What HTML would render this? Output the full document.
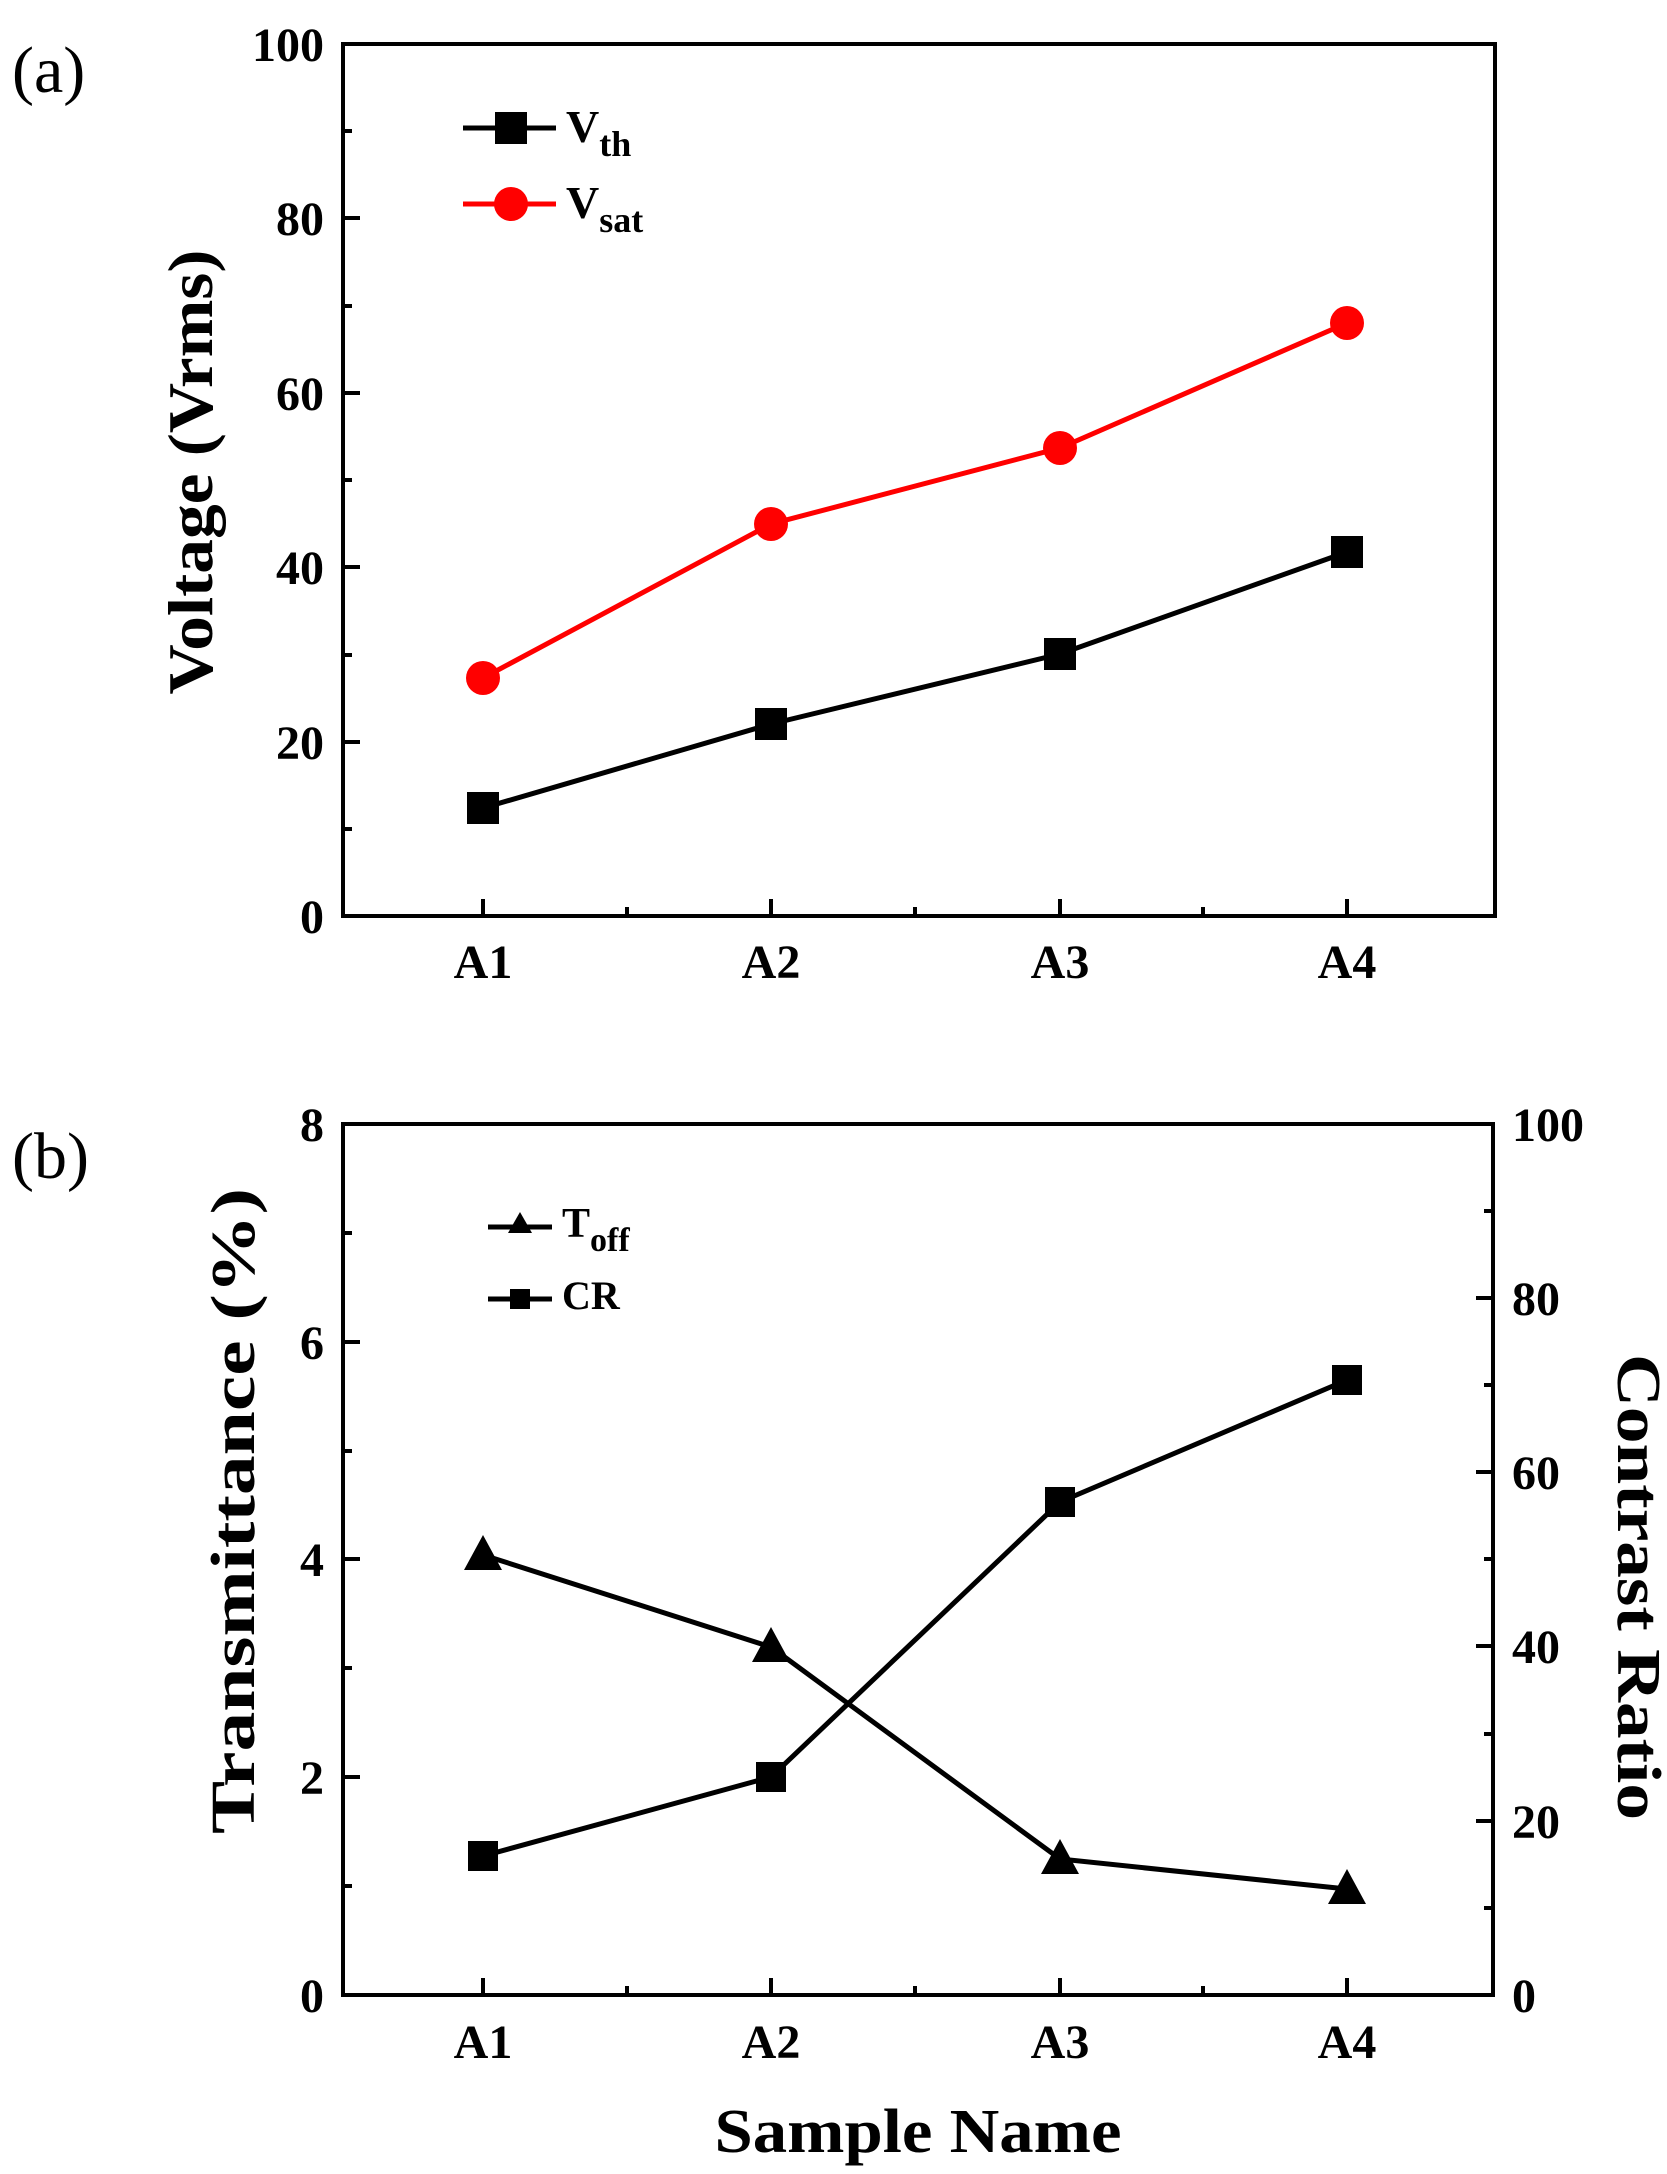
<!DOCTYPE html>
<html><head><meta charset="utf-8"><style>
html,body{margin:0;padding:0;background:#fff}
svg{display:block}
text{font-family:"Liberation Serif",serif;font-weight:bold;fill:#000}
</style></head><body>
<svg width="1667" height="2174" viewBox="0 0 1667 2174" xmlns="http://www.w3.org/2000/svg">
<!-- Panel a -->
<text x="12" y="92" font-size="66" style="font-weight:normal">(a)</text>
<rect x="343" y="44" width="1152" height="872" fill="none" stroke="#000" stroke-width="4"/>
<g stroke="#000" stroke-width="4">
<line x1="343" y1="916" x2="360" y2="916"/><line x1="343" y1="742" x2="360" y2="742"/><line x1="343" y1="567" x2="360" y2="567"/><line x1="343" y1="393" x2="360" y2="393"/><line x1="343" y1="218" x2="360" y2="218"/>
<line x1="343" y1="829" x2="352" y2="829"/><line x1="343" y1="655" x2="352" y2="655"/><line x1="343" y1="480" x2="352" y2="480"/><line x1="343" y1="306" x2="352" y2="306"/><line x1="343" y1="131" x2="352" y2="131"/>
<line x1="483" y1="916" x2="483" y2="899"/><line x1="771" y1="916" x2="771" y2="899"/><line x1="1060" y1="916" x2="1060" y2="899"/><line x1="1347" y1="916" x2="1347" y2="899"/>
<line x1="627" y1="916" x2="627" y2="907"/><line x1="915" y1="916" x2="915" y2="907"/><line x1="1203" y1="916" x2="1203" y2="907"/>
</g>
<g font-size="48" text-anchor="end">
<text x="324" y="933">0</text><text x="324" y="759">20</text><text x="324" y="584">40</text><text x="324" y="410">60</text><text x="324" y="235">80</text><text x="324" y="61">100</text>
</g>
<g font-size="48" text-anchor="middle">
<text x="483" y="978">A1</text><text x="771" y="978">A2</text><text x="1060" y="978">A3</text><text x="1347" y="978">A4</text>
</g>
<text transform="translate(212,472) rotate(-90)" font-size="64" text-anchor="middle" textLength="445" lengthAdjust="spacingAndGlyphs">Voltage  (Vrms)</text>
<polyline points="483,678 771,524 1060,448 1347,323" fill="none" stroke="#f00" stroke-width="5"/>
<polyline points="483,808 771,724 1060,654 1347,552" fill="none" stroke="#000" stroke-width="5"/>
<g fill="#f00"><circle cx="483" cy="678" r="17"/><circle cx="771" cy="524" r="17"/><circle cx="1060" cy="448" r="17"/><circle cx="1347" cy="323" r="17"/></g>
<g fill="#000"><rect x="467" y="792" width="32" height="32"/><rect x="755" y="708" width="32" height="32"/><rect x="1044" y="638" width="32" height="32"/><rect x="1331" y="536" width="32" height="32"/></g>
<line x1="463" y1="128" x2="556" y2="128" stroke="#000" stroke-width="5"/><rect x="495" y="112" width="32" height="32"/>
<line x1="463" y1="204" x2="556" y2="204" stroke="#f00" stroke-width="5"/><circle cx="511" cy="204" r="17" fill="#f00"/>
<text x="566" y="142" font-size="46">V<tspan font-size="36" dy="14">th</tspan></text>
<text x="566" y="218" font-size="46">V<tspan font-size="36" dy="14">sat</tspan></text>

<!-- Panel b -->
<text x="12" y="1178" font-size="66" style="font-weight:normal">(b)</text>
<rect x="343" y="1124" width="1150" height="871" fill="none" stroke="#000" stroke-width="4"/>
<g stroke="#000" stroke-width="4">
<line x1="343" y1="1995" x2="360" y2="1995"/><line x1="343" y1="1777" x2="360" y2="1777"/><line x1="343" y1="1559" x2="360" y2="1559"/><line x1="343" y1="1342" x2="360" y2="1342"/>
<line x1="343" y1="1886" x2="352" y2="1886"/><line x1="343" y1="1668" x2="352" y2="1668"/><line x1="343" y1="1451" x2="352" y2="1451"/><line x1="343" y1="1233" x2="352" y2="1233"/>
<line x1="1493" y1="1821" x2="1476" y2="1821"/><line x1="1493" y1="1646" x2="1476" y2="1646"/><line x1="1493" y1="1472" x2="1476" y2="1472"/><line x1="1493" y1="1298" x2="1476" y2="1298"/>
<line x1="1493" y1="1908" x2="1484" y2="1908"/><line x1="1493" y1="1734" x2="1484" y2="1734"/><line x1="1493" y1="1559" x2="1484" y2="1559"/><line x1="1493" y1="1385" x2="1484" y2="1385"/><line x1="1493" y1="1211" x2="1484" y2="1211"/>
<line x1="483" y1="1995" x2="483" y2="1978"/><line x1="771" y1="1995" x2="771" y2="1978"/><line x1="1060" y1="1995" x2="1060" y2="1978"/><line x1="1347" y1="1995" x2="1347" y2="1978"/>
<line x1="627" y1="1995" x2="627" y2="1986"/><line x1="915" y1="1995" x2="915" y2="1986"/><line x1="1203" y1="1995" x2="1203" y2="1986"/>
</g>
<g font-size="48" text-anchor="end">
<text x="324" y="2012">0</text><text x="324" y="1794">2</text><text x="324" y="1576">4</text><text x="324" y="1359">6</text><text x="324" y="1141">8</text>
</g>
<g font-size="48" text-anchor="start">
<text x="1512" y="2012">0</text><text x="1512" y="1838">20</text><text x="1512" y="1663">40</text><text x="1512" y="1489">60</text><text x="1512" y="1315">80</text><text x="1512" y="1141">100</text>
</g>
<g font-size="48" text-anchor="middle">
<text x="483" y="2058">A1</text><text x="771" y="2058">A2</text><text x="1060" y="2058">A3</text><text x="1347" y="2058">A4</text>
</g>
<text transform="translate(254,1511) rotate(-90)" font-size="62" text-anchor="middle" textLength="646" lengthAdjust="spacingAndGlyphs">Transmittance  (%)</text>
<text transform="translate(1618,1587) rotate(90)" font-size="62" text-anchor="middle" textLength="466" lengthAdjust="spacingAndGlyphs">Contrast  Ratio</text>
<text x="918" y="2152" font-size="62" text-anchor="middle" textLength="407" lengthAdjust="spacingAndGlyphs">Sample Name</text>
<polyline points="483,1555 771,1647 1060,1859 1347,1889" fill="none" stroke="#000" stroke-width="5"/>
<polyline points="483,1856 771,1777 1060,1502 1347,1380" fill="none" stroke="#000" stroke-width="5"/>
<g fill="#000">
<polygon points="483,1535 502,1570 464,1570"/><polygon points="771,1627 790,1662 752,1662"/><polygon points="1060,1839 1079,1874 1041,1874"/><polygon points="1347,1869 1366,1904 1328,1904"/>
<rect x="468" y="1841" width="30" height="30"/><rect x="756" y="1762" width="30" height="30"/><rect x="1045" y="1487" width="30" height="30"/><rect x="1332" y="1365" width="30" height="30"/>
</g>
<line x1="488" y1="1227" x2="552" y2="1227" stroke="#000" stroke-width="5"/><polygon points="520,1212 532,1233 508,1233"/>
<line x1="488" y1="1299" x2="552" y2="1299" stroke="#000" stroke-width="5"/><rect x="510" y="1289" width="20" height="20"/>
<text x="562" y="1237" font-size="42">T<tspan font-size="34" dy="14">off</tspan></text>
<text x="562" y="1309" font-size="40">CR</text>
</svg>
</body></html>
